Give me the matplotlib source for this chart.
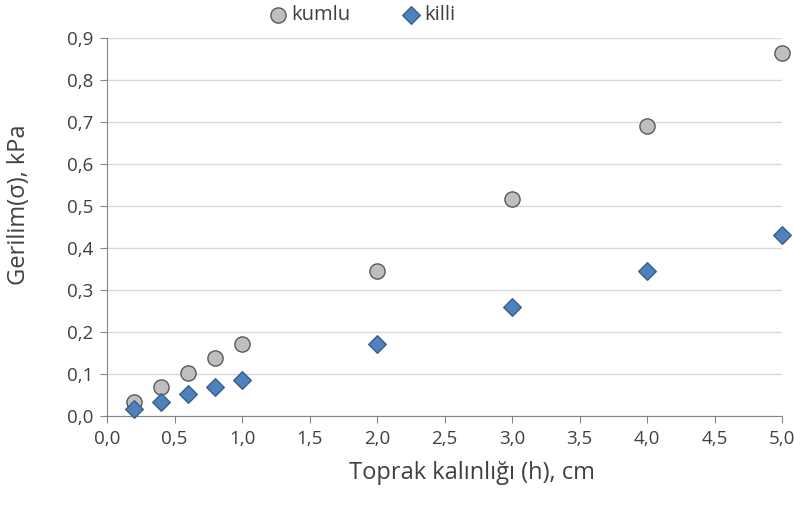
import matplotlib
matplotlib.use('Agg')
import matplotlib.pyplot as plt
from matplotlib.ticker import MultipleLocator, FuncFormatter

plt.rcParams['font.family'] = ['Open Sans', 'DejaVu Sans']

# veri
kalinlik = [0.2, 0.4, 0.6, 0.8, 1.0, 2.0, 3.0, 4.0, 5.0]
kumlu = [0.034, 0.069, 0.103, 0.138, 0.172, 0.345, 0.517, 0.690, 0.865]
killi = [0.017, 0.034, 0.052, 0.069, 0.086, 0.172, 0.259, 0.345, 0.432]

fig = plt.figure(figsize=(7.94, 5.15), dpi=100)
ax = fig.add_axes([0.1348, 0.1922, 0.8502, 0.7338])

ax.scatter(kalinlik, kumlu, s=120, marker='o', facecolor='#bfbfbf',
           edgecolor='#595959', linewidth=1, label='kumlu', zorder=3, clip_on=False)
ax.scatter(kalinlik, killi, s=80, marker='D', facecolor='#4f81bd',
           edgecolor='#385d8a', linewidth=1, label='killi', zorder=3, clip_on=False)

ax.set_xlim(0, 5.0)
ax.set_ylim(0, 0.9)
ax.xaxis.set_major_locator(MultipleLocator(0.5))
ax.yaxis.set_major_locator(MultipleLocator(0.1))
fmt = FuncFormatter(lambda v, p: f'{v:.1f}'.replace('.', ','))
ax.xaxis.set_major_formatter(fmt)
ax.yaxis.set_major_formatter(fmt)

ax.grid(axis='y', color='#d9d9d9', linewidth=1)
ax.set_axisbelow(True)
for s in ['top', 'right']:
    ax.spines[s].set_visible(False)
for s in ['left', 'bottom']:
    ax.spines[s].set_color('#868686')
ax.tick_params(axis='both', colors='#868686', length=5, labelsize=13.5,
               labelcolor='#404040')
ax.tick_params(axis='x', pad=5)
ax.tick_params(axis='y', pad=5)

ax.set_xlabel('Toprak kalınlığı (h), cm', fontsize=17, color='#404040')
ax.xaxis.set_label_coords(0.541, -0.12)
ax.set_ylabel('Gerilim(σ), kPa', fontsize=17, color='#404040')
ax.yaxis.set_label_coords(-0.113, 0.56)

fig.legend(loc='upper left', bbox_to_anchor=(0.315, 1.025), ncol=2, frameon=False,
           fontsize=14.5, handlelength=1.0, handletextpad=0.15, columnspacing=2.5,
           labelcolor='#404040')

fig.savefig('out.png', dpi=100)
